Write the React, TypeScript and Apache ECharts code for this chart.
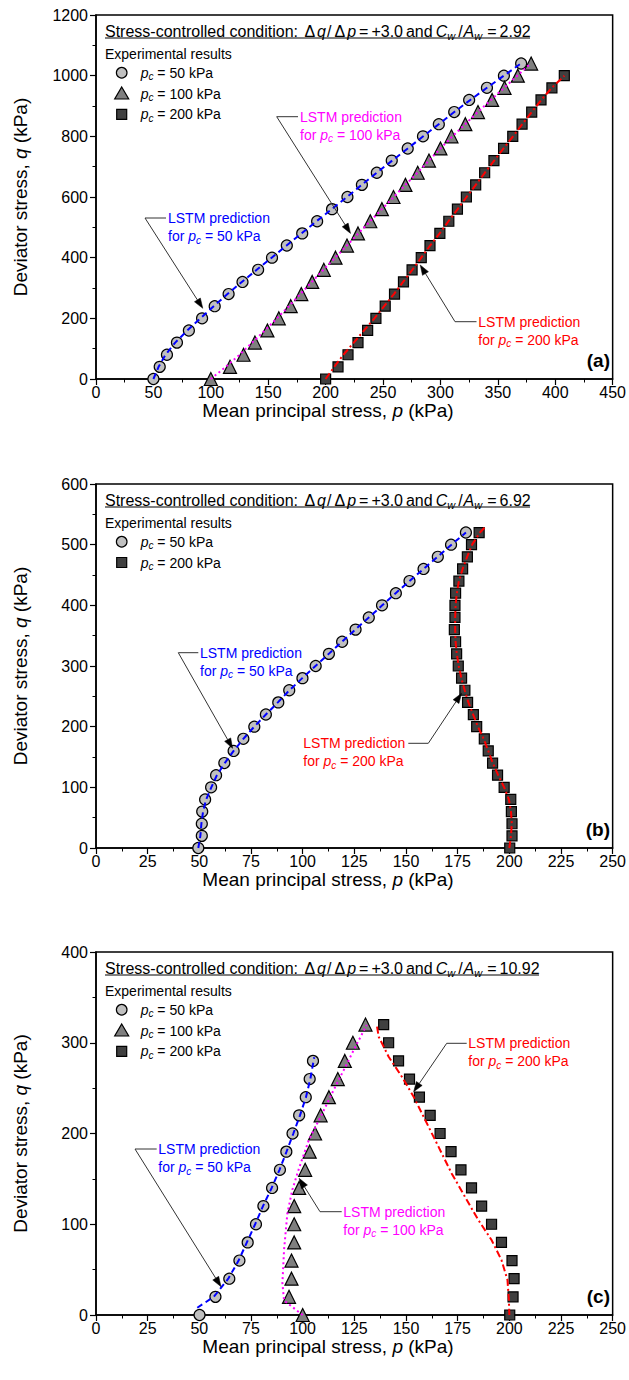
import React, { useEffect, useRef } from 'react';
import * as echarts from 'echarts';

const FONT = '"Liberation Sans", Arial, Helvetica, sans-serif';

// ---------- Panel (a): Cw/Aw = 2.92 ----------
const qA50 = [0, 40, 80, 120, 160, 200, 240, 280, 320, 360, 400, 440, 480, 520, 560, 600, 640, 680, 720, 760, 800, 840, 880, 920, 960, 1000, 1040];
const pA50 = [50, 55.5, 61.8, 70.5, 80.9, 92.4, 103.4, 115.5, 127.6, 141.2, 153.3, 166.2, 179.6, 192.6, 205.6, 219, 231.6, 244.6, 257.6, 271.5, 284.8, 298.6, 312, 325, 340.5, 355.3, 370.3];
const qA100 = [0, 40, 80, 120, 160, 200, 240, 280, 320, 360, 400, 440, 480, 520, 560, 600, 640, 680, 720, 760, 800, 840, 880, 920, 960, 1000, 1040];
const pA100 = [100, 116.7, 128.5, 138.4, 149.3, 159.2, 169.6, 178.8, 188.3, 198.4, 208.6, 218.6, 228.2, 238.9, 249, 259.1, 269.5, 280.2, 290, 300, 309.6, 321.7, 332.7, 345, 355.8, 367.4, 379];
const qA200 = [0, 40, 80, 120, 160, 200, 240, 280, 320, 360, 400, 440, 480, 520, 560, 600, 640, 680, 720, 760, 800, 840, 880, 920, 960, 1000];
const pA200 = [200, 210.8, 219.5, 228.2, 236.6, 243.8, 251.9, 260, 267.8, 275.3, 283.3, 290.9, 299.5, 307.3, 314.8, 322.6, 330.7, 338.5, 346.6, 355, 363, 371.1, 379.5, 387.6, 397.1, 407.9];
// LSTM predictions (a)
const lqA50 = qA50;
const lpA50 = [50, 54.5, 60.5, 69, 79.5, 91, 102.5, 114.5, 127, 140, 153, 166, 179, 192, 205.3, 218.5, 231.5, 244.5, 258, 271.5, 285, 298.5, 312, 326, 340.5, 355.3, 370];
const lqA100 = qA100;
const lpA100 = [100, 113, 125, 136, 147, 157.5, 168, 178, 188, 198, 208.3, 218.5, 228.5, 238.7, 249, 259.3, 269.5, 280, 290, 300, 310.5, 321.5, 332.5, 344, 355.5, 367, 378.5];
const lqA200 = qA200;
const lpA200 = [200, 207.5, 215.5, 224.5, 233.5, 242.5, 251, 259.5, 267.5, 275.5, 283.3, 291, 299.3, 307, 315, 322.8, 330.8, 338.7, 346.8, 355, 363.2, 371.3, 379.5, 387.8, 397, 408];

// ---------- Panel (b): Cw/Aw = 6.92 ----------
const qB = [0, 20, 40, 60, 80, 100, 120, 140, 160, 180, 200, 220, 240, 260, 280, 300, 320, 340, 360, 380, 400, 420, 440, 460, 480, 500, 520];
const pB50 = [49.5, 51.2, 51.2, 51.4, 52.8, 55.7, 58.1, 62.1, 66.6, 71.3, 76.6, 82.2, 88.2, 93.5, 99.9, 106.3, 112.7, 119.1, 125.6, 132, 138.4, 145.1, 151.7, 158.5, 165.4, 171.8, 179];
const pB200 = [200.2, 201.3, 201.3, 201, 200.7, 197.5, 194.3, 191.9, 189.8, 187.9, 184.2, 182.6, 179.8, 178.5, 176.9, 175.3, 174.5, 174, 173.4, 173.7, 173.7, 174, 175.6, 177.4, 179.7, 181.7, 185.4];
const lpB50 = [49.5, 50.5, 51, 51.8, 53.3, 55.8, 58.5, 62.3, 66.6, 71.3, 76.6, 82.2, 88, 93.6, 99.8, 106.2, 112.6, 119, 125.5, 132, 138.5, 145, 151.7, 158.5, 165.3, 172, 179];
const lqB200 = [0, 20, 40, 60, 80, 100, 120, 140, 160, 180, 200, 220, 240, 260, 280, 300, 320, 340, 360, 380, 400, 420, 440, 460, 480, 500, 520, 528];
const lpB200 = [200, 200.8, 201.2, 200.8, 199.8, 197.5, 194.6, 192, 189.8, 187.6, 184.8, 182.5, 180.2, 178.4, 176.8, 175.5, 174.6, 174, 173.8, 173.8, 174, 174.6, 175.6, 177.4, 179.6, 182, 185.8, 188];

// ---------- Panel (c): Cw/Aw = 10.92 ----------
const qC50 = [0, 20, 40, 60, 80, 100, 120, 140, 160, 180, 200, 220, 240, 260, 280];
const pC50 = [50.1, 57.8, 64.5, 69.4, 73.4, 77.4, 81, 85.2, 89, 92.1, 95.1, 98.3, 101.5, 103.4, 105];
const qC100 = [0, 20, 40, 60, 80, 100, 120, 140, 160, 180, 200, 220, 240, 260, 280, 300, 320];
const pC100 = [100, 93.4, 94.6, 94.6, 95.9, 95.9, 95.9, 98.3, 101.2, 103.4, 106, 108.7, 112.7, 117, 120.4, 124.3, 130.4];
const qC200 = [0, 20, 40, 60, 80, 100, 120, 140, 160, 180, 200, 220, 240, 260, 280, 300, 320];
const pC200 = [200.2, 201.8, 202.3, 201.3, 196.2, 191.4, 186.6, 181.7, 176.6, 171.8, 166.5, 161.7, 156.5, 151.7, 146.4, 141.6, 139.2];
const lqC50 = [8, 20, 40, 60, 80, 100, 120, 140, 160, 180, 200, 220, 240, 260, 284];
const lpC50 = [49, 57, 64, 69, 73, 77, 80.8, 85, 88.8, 92.2, 95.5, 98.7, 101.6, 103.7, 105.6];
const lqC100 = [0, 16, 35, 72, 112, 138, 162, 193, 218.5, 248, 273.6, 295.6, 319.5];
const lpC100 = [100, 91, 90.2, 91, 92.6, 95, 98.3, 103, 108.7, 115, 120.7, 125.5, 131];
const lqC200 = [317.7, 306.6, 284.6, 262.6, 240.5, 214.9, 185.5, 156, 130.4, 104.7, 82.6, 60.6, 38.6, 16.5, 0];
const lpC200 = [136, 136.8, 141.6, 148, 153.7, 159.3, 165.7, 172.1, 178.5, 185, 191.4, 196.2, 199.1, 199.8, 200];

const ratios = ['2.92', '6.92', '10.92'];
const tags = ['(a)', '(b)', '(c)'];
const xMaxes = [450, 250, 250];
const xSteps = [50, 25, 25];
const yMaxes = [1200, 600, 400];
const ySteps = [200, 100, 100];

// annotation targets (data coords) for arrow tips
const annTips = [
  [[93, 233], [221.7, 480], [282.4, 375.8]],
  [[66.1, 164.3], [176.9, 255]],
  [[60.5, 31.2], [98.3, 150.6], [153.7, 246]],
];

const BLUE = '#0000ff';
const MAG = '#ff00ff';
const RED = '#ff0000';
const C_FILL = '#c0c0c0';
const T_FILL = '#7f7f7f';
const S_FILL = '#404040';

// layout
const GRIDS = [
  { top: 15, height: 364 },
  { top: 484, height: 364 },
  { top: 952, height: 363 },
];
const LEFT = 96;
const RIGHT_X = 615;

function zip(p: number[], q: number[]) {
  return p.map((v, i) => [v, q[i]]);
}

function rich(color: string, size: number) {
  return {
    n: { fill: color, fontSize: size, fontFamily: FONT, lineHeight: size + 4 },
    i: { fill: color, fontSize: size, fontFamily: FONT, fontStyle: 'italic', lineHeight: size + 4 },
    s: { fill: color, fontSize: Math.round(size * 0.7), fontFamily: FONT, fontStyle: 'italic', lineHeight: Math.round(size * 0.45), verticalAlign: 'bottom' },
    sw: { fill: color, fontSize: Math.round(size * 0.7), fontFamily: FONT, fontStyle: 'italic', lineHeight: Math.round(size * 0.45), verticalAlign: 'bottom', padding: [0, 2, 0, 0] },
    g: { fill: color, fontSize: size, fontFamily: FONT, lineHeight: size + 4, padding: [0, 2, 0, 2] },
    e: { fill: color, fontSize: size, fontFamily: FONT, lineHeight: size + 4, padding: [0, 3, 0, 3] },
    sl: { fill: color, fontSize: size, fontFamily: FONT, lineHeight: size + 4, padding: [0, 1, 0, 1] },
  };
}

function txt(x: number, y: number, text: string, color: string, size: number, align = 'left', vAlign = 'middle', extra: any = {}) {
  return {
    type: 'text',
    x,
    y,
    z: 100,
    ...extra,
    style: {
      text,
      fill: color,
      fontSize: size,
      fontFamily: FONT,
      align,
      verticalAlign: vAlign,
      rich: rich(color, size),
    },
  };
}

function scatter(data: number[][], idx: number, symbol: string, size: number, fill: string) {
  return {
    type: 'scatter',
    xAxisIndex: idx,
    yAxisIndex: idx,
    data,
    symbol,
    symbolSize: size,
    z: 2,
    itemStyle: { color: fill, borderColor: '#000', borderWidth: 1.2, opacity: 1 },
  };
}

function line(data: number[][], idx: number, color: string, type: any) {
  return {
    type: 'line',
    xAxisIndex: idx,
    yAxisIndex: idx,
    data,
    showSymbol: false,
    symbol: 'none',
    z: 3,
    lineStyle: { color, width: 2, type },
  };
}

const DASH = [6, 4];
const DOT = [2, 3];
const DASHDOT = [7, 3, 2, 3];

function buildOption() {
  const grid = GRIDS.map((g) => ({ left: LEFT, right: 629 - RIGHT_X, top: g.top, height: g.height, show: true, borderColor: '#000', borderWidth: 1.5, backgroundColor: 'transparent' }));
  const xAxis = GRIDS.map((_, i) => ({
    type: 'value', gridIndex: i, min: 0, max: xMaxes[i], interval: xSteps[i],
    axisLine: { show: true, onZero: false, lineStyle: { color: '#000', width: 1.5 } },
    axisTick: { show: true, inside: false, length: 6, lineStyle: { color: '#000', width: 1.2 } },
    minorTick: { show: true, splitNumber: 2, length: 3.5, lineStyle: { color: '#000', width: 1 } },
    splitLine: { show: false },
    axisLabel: { color: '#000', fontSize: 16, fontFamily: FONT, margin: 5, formatter: (v: number) => String(v) },
  }));
  const yAxis = GRIDS.map((_, i) => ({
    type: 'value', gridIndex: i, min: 0, max: yMaxes[i], interval: ySteps[i],
    axisLine: { show: true, onZero: false, lineStyle: { color: '#000', width: 1.5 } },
    axisTick: { show: true, inside: false, length: 6, lineStyle: { color: '#000', width: 1.2 } },
    minorTick: { show: true, splitNumber: 2, length: 3.5, lineStyle: { color: '#000', width: 1 } },
    splitLine: { show: false },
    axisLabel: { color: '#000', fontSize: 16, fontFamily: FONT, margin: 8, formatter: (v: number) => String(v) },
  }));
  const series: any[] = [
    scatter(zip(pA50, qA50), 0, 'circle', 11, C_FILL),
    scatter(zip(pA100, qA100), 0, 'triangle', 13, T_FILL),
    scatter(zip(pA200, qA200), 0, 'rect', 10, S_FILL),
    line(zip(lpA50, lqA50), 0, BLUE, DASH),
    line(zip(lpA100, lqA100), 0, MAG, DOT),
    line(zip(lpA200, lqA200), 0, RED, DASHDOT),

    scatter(zip(pB50, qB), 1, 'circle', 11, C_FILL),
    scatter(zip(pB200, qB), 1, 'rect', 10, S_FILL),
    line(zip(lpB50, qB), 1, BLUE, DASH),
    line(zip(lpB200, lqB200), 1, RED, DASHDOT),

    scatter(zip(pC50, qC50), 2, 'circle', 11, C_FILL),
    scatter(zip(pC100, qC100), 2, 'triangle', 13, T_FILL),
    scatter(zip(pC200, qC200), 2, 'rect', 10, S_FILL),
    line(zip(lpC50, lqC50), 2, BLUE, DASH),
    line(zip(lpC100, lqC100), 2, MAG, DOT),
    line(zip(lpC200, lqC200), 2, RED, DASHDOT),
  ];
  return {
    animation: false,
    backgroundColor: '#fff',
    textStyle: { fontFamily: FONT },
    grid,
    xAxis,
    yAxis,
    series,
  };
}

// annotation layout (pixel placement of labels and leader corners)
const annLayout = [
  [
    { color: BLUE, pc: '50', tx: 168, ty: 218, cx: 145, hx: 166 },
    { color: MAG, pc: '100', tx: 300, ty: 116.7, cx: 276.7, hx: 298 },
    { color: RED, pc: '200', tx: 478.3, ty: 321.7, cx: 455, hx: 476.5 },
  ],
  [
    { color: BLUE, pc: '50', tx: 200, ty: 652.7, cx: 178.3, hx: 198.3 },
    { color: RED, pc: '200', tx: 303.3, ty: 743.3, cx: 428.3, hx: 408.3 },
  ],
  [
    { color: BLUE, pc: '50', tx: 158.3, ty: 1149, cx: 135, hx: 156.7 },
    { color: MAG, pc: '100', tx: 343.3, ty: 1211.7, cx: 320, hx: 341.7 },
    { color: RED, pc: '200', tx: 468.3, ty: 1043.3, cx: 446.7, hx: 466.7 },
  ],
];
const underlineEnds = [530, 530, 539];
const legendSets = [['c', 't', 's'], ['c', 's'], ['c', 't', 's']];
const legendLabels: Record<string, string> = { c: '50', t: '100', s: '200' };

function buildGraphics(chart: any) {
  const g: any[] = [];
  GRIDS.forEach((gr, i) => {
    const top = gr.top;
    const bottom = gr.top + gr.height;
    // title
    g.push(txt(105, top + 16.7, `{n|Stress-controlled condition: }{g|Δ}{i|q}{sl|/}{g|Δ}{i|p}{e|=}{n|+3.0}{e|and}{i|C}{sw|w}{sl|/}{i|A}{sw|w}{e|=}{n|${ratios[i]}}`, '#000', 16));
    g.push({ type: 'line', z: 100, shape: { x1: 105, y1: top + 23, x2: underlineEnds[i], y2: top + 23 }, style: { stroke: '#000', lineWidth: 1 } });
    // legend
    g.push(txt(105, top + 39.3, '{n|Experimental results}', '#000', 14));
    legendSets[i].forEach((k, j) => {
      const cy = top + 57.7 + j * 20.8;
      const cx = 121.7;
      if (k === 'c') g.push({ type: 'circle', z: 100, shape: { cx, cy, r: 5.3 }, style: { fill: C_FILL, stroke: '#000', lineWidth: 1.2 } });
      if (k === 't') g.push({ type: 'polygon', z: 100, shape: { points: [[cx, cy - 6.5], [cx + 7, cy + 5.5], [cx - 7, cy + 5.5]] }, style: { fill: T_FILL, stroke: '#000', lineWidth: 1.2 } });
      if (k === 's') g.push({ type: 'rect', z: 100, shape: { x: cx - 5, y: cy - 5, width: 10, height: 10 }, style: { fill: S_FILL, stroke: '#000', lineWidth: 1.2 } });
      g.push(txt(140.7, cy, `{i|p}{s|c}{n| = ${legendLabels[k]} kPa}`, '#000', 14));
    });
    // panel tag
    g.push({ type: 'text', x: 610, y: bottom - 19, z: 100, style: { text: tags[i], fill: '#000', fontSize: 19, fontWeight: 'bold', fontFamily: FONT, align: 'right', verticalAlign: 'middle' } });
    // axis titles
    g.push(txt(328, bottom + 31, '{n|Mean principal stress, }{i|p}{n| (kPa)}', '#000', 19, 'center', 'middle'));
    g.push(txt(20, top + gr.height / 2, '{n|Deviator stress, }{i|q}{n| (kPa)}', '#000', 19, 'center', 'middle', { rotation: Math.PI / 2 }));
    // annotations
    annLayout[i].forEach((a, j) => {
      const tip = chart.convertToPixel({ gridIndex: i }, annTips[i][j]);
      g.push(txt(a.tx, a.ty - 9, `{n|LSTM prediction}\n{n|for }{i|p}{s|c}{n| = ${a.pc} kPa}`, a.color, 14, 'left', 'top'));
      const dx = tip[0] - a.cx;
      const dy = tip[1] - a.ty;
      const L = Math.sqrt(dx * dx + dy * dy);
      const ux = dx / L;
      const uy = dy / L;
      const alen = 10;
      const aw = 3.5;
      const bx = tip[0] - ux * alen;
      const by = tip[1] - uy * alen;
      g.push({ type: 'polyline', z: 100, shape: { points: [[a.hx, a.ty], [a.cx, a.ty], [bx, by]] }, style: { stroke: '#333', lineWidth: 1, fill: null } });
      g.push({ type: 'polygon', z: 100, shape: { points: [[tip[0], tip[1]], [bx - uy * aw, by + ux * aw], [bx + uy * aw, by - ux * aw]] }, style: { fill: '#000', stroke: '#000', lineWidth: 0.5 } });
    });
  });
  return g;
}

export default function App() {
  const ref = useRef<HTMLDivElement>(null);
  useEffect(() => {
    const chart = echarts.init(ref.current as HTMLDivElement, null, { renderer: 'svg' });
    chart.setOption(buildOption() as any);
    chart.setOption({ graphic: buildGraphics(chart) } as any);
    return () => {
      chart.dispose();
    };
  }, []);
  return <div ref={ref} style={{ position: 'absolute', left: 0, top: 0, width: 629, height: 1380, background: '#fff' }} />;
}
